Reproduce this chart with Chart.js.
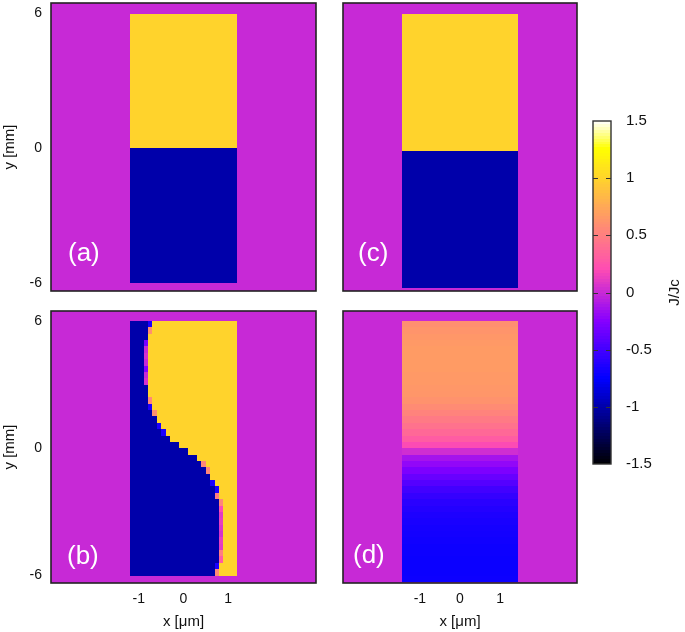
<!DOCTYPE html>
<html>
<head>
<meta charset="utf-8">
<script src="https://cdn.jsdelivr.net/npm/chart.js@4.4.1/dist/chart.umd.min.js"></script>
<style>
  body { margin: 0; background: #fff; width: 685px; height: 632px; position: relative; overflow: hidden; }
  canvas { position: absolute; }
</style>
</head>
<body>
<canvas id="pa" width="320" height="295" style="left:0;top:0"></canvas>
<canvas id="pc" width="250" height="295" style="left:330px;top:0"></canvas>
<canvas id="pb" width="320" height="332" style="left:0;top:300px"></canvas>
<canvas id="pd" width="250" height="332" style="left:330px;top:300px"></canvas>
<canvas id="cb" width="105" height="380" style="left:580px;top:100px"></canvas>
<script>
// colour range J/Jc and tick labels
const cbMin = -1.5, cbMax = 1.5;
const cbTicks = [-1.5, -1, -0.5, 0, 0.5, 1, 1.5];
const xTicks = [-1, 0, 1];
const yTicks = [-6, 0, 6];

// (a) sharp split at y = 0
const aX = [-1.19, 1.19];
const aY = [-6, 0, 6];
const aJ = [-1, 1];

// (c) split slightly below 0
const cX = [-1.45, 1.45];
const cY = [-6.2, -0.1, 6];
const cJ = [-1, 1];

// (b) 24 x 40 grid, rows listed top to bottom
const bX = [-1.19, 1.19];
const bY = [-6, 6];
const bCols = 24;
// first column that is +1 in each row
const bEdge = [5, 5, 4, 4, 4, 4, 4, 4, 4, 4,
               4, 4, 5, 5, 6, 6, 7, 8, 9, 11,
               13, 15, 17, 18, 18, 19, 20, 20, 21, 21,
               21, 21, 21, 21, 21, 21, 21, 21, 20, 20];
// value of the cell just left of that edge
const bMix = [-0.65, 0.6, -1, -0.3, 0, 0.05, 0, -0.25, 0, 0.05,
              -1, -1, 0.55, -0.65, 0.6, -1, -0.65, -0.65, -1, -1,
              -1, -1, 0.55, 0.55, -1, -0.65, -0.65, 0.5, 0.55, 0.2,
              0.1, 0.12, 0.08, 0.05, 0.12, 0.1, 0.5, 0.3, -0.65, 0.55];

// (d) horizontal bands 0.3 mm tall, top (y = 6) to bottom
const dX = [-1.45, 1.45];
const dTop = 6, dRowH = 0.3;
const dJ = [0.6, 0.63, 0.65, 0.66, 0.67, 0.67, 0.67, 0.67, 0.66, 0.66,
            0.65, 0.64, 0.62, 0.58, 0.53, 0.48, 0.43, 0.37, 0.3, 0.2,
            0.03, -0.13, -0.2, -0.28, -0.36, -0.43, -0.5, -0.55, -0.59, -0.62,
            -0.64, -0.655, -0.67, -0.68, -0.69, -0.7, -0.7, -0.71, -0.71, -0.71, -0.7];

// gnuplot rgbformulae 30,31,32
function clamp01(v) { return Math.max(0, Math.min(1, v)); }
function palette(j) {
  const t = clamp01((j - cbMin) / (cbMax - cbMin));
  const r = clamp01(t / 0.32 - 0.78125);
  const g = clamp01(2 * t - 0.84);
  let b;
  if (t < 0.25) b = 4 * t;
  else if (t < 0.42) b = 1;
  else if (t < 0.92) b = -2 * t + 1.84;
  else b = t / 0.08 - 11.5;
  b = clamp01(b);
  return 'rgb(' + Math.round(r * 255) + ',' + Math.round(g * 255) + ',' + Math.round(b * 255) + ')';
}

function cell(x0, x1, y0, y1, v) {
  return { x: (x0 + x1) / 2, y: (y0 + y1) / 2, x0: x0, x1: x1, y0: y0, y1: y1, v: v };
}

function splitCells(xs, ys, js) {
  return js.map((v, i) => cell(xs[0], xs[1], ys[i], ys[i + 1], v));
}

const aCells = splitCells(aX, aY, aJ);
const cCells = splitCells(cX, cY, cJ);

const bCells = [];
const bw = (bX[1] - bX[0]) / bCols, bh = (bY[1] - bY[0]) / bEdge.length;
bEdge.forEach((edge, r) => {
  const y1 = bY[1] - r * bh, y0 = y1 - bh;
  for (let c = 0; c < bCols; c++) {
    let v = c < edge ? -1 : 1;
    if (c === edge - 1) v = bMix[r];
    bCells.push(cell(bX[0] + c * bw, bX[0] + (c + 1) * bw, y0, y1, v));
  }
});

const dCells = dJ.map((v, i) => cell(dX[0], dX[1], dTop - (i + 1) * dRowH, dTop - i * dRowH, v));

const FONT = "'Liberation Sans', Arial, sans-serif";
const tickFont = { family: FONT, size: 14 };
const titleFont = { family: FONT, size: 15 };
const noGrid = { display: false, drawTicks: false };

// fixed axis sizes, no extra room for overhanging labels
function fixSize(w, h) {
  return s => {
    if (!s.options.display) { s.width = 0; s.height = 0; }
    else if (w) s.width = w;
    else s.height = h;
    s.paddingTop = s.paddingBottom = s.paddingLeft = s.paddingRight = 0;
  };
}

// draws the cells through the chart scales, then the frame and panel tag
const heatmap = {
  id: 'heatmap',
  beforeDatasetsDraw(chart) {
    const { ctx, chartArea: a, scales: { x, y } } = chart;
    ctx.save();
    ctx.fillStyle = palette(0);
    ctx.fillRect(a.left, a.top, a.width, a.height);
    chart.data.datasets[0].data.forEach(c => {
      const px0 = Math.round(x.getPixelForValue(c.x0)), px1 = Math.round(x.getPixelForValue(c.x1));
      const py0 = Math.round(y.getPixelForValue(c.y0)), py1 = Math.round(y.getPixelForValue(c.y1));
      ctx.fillStyle = palette(c.v);
      ctx.fillRect(Math.min(px0, px1), Math.min(py0, py1), Math.abs(px1 - px0), Math.abs(py1 - py0));
    });
    ctx.restore();
  },
  afterDraw(chart) {
    const { ctx, chartArea: a } = chart;
    const tag = chart.options.plugins.heatmap;
    ctx.save();
    ctx.strokeStyle = '#222';
    ctx.lineWidth = 1.6;
    ctx.strokeRect(a.left, a.top, a.width, a.height);
    ctx.fillStyle = '#fff';
    ctx.font = '26px ' + FONT;
    ctx.textAlign = 'left';
    ctx.textBaseline = 'alphabetic';
    ctx.fillText(tag.text, a.left + tag.dx, a.bottom - tag.dy);
    ctx.restore();
  }
};

function panel(id, cells, o) {
  return new Chart(document.getElementById(id), {
    type: 'scatter',
    data: { datasets: [{ data: cells, pointRadius: 0 }] },
    options: {
      responsive: false,
      animation: false,
      events: [],
      layout: { padding: o.pad },
      plugins: {
        legend: { display: false },
        tooltip: { enabled: false },
        heatmap: { text: o.tag, dx: o.dx, dy: o.dy }
      },
      scales: {
        x: {
          type: 'linear', min: -o.xr, max: o.xr, display: o.showX,
          grid: noGrid, border: { display: false },
          afterBuildTicks: s => { s.ticks = xTicks.map(v => ({ value: v })); },
          afterFit: fixSize(0, 49),
          ticks: { font: tickFont, color: '#111', padding: 8 },
          title: { display: true, text: 'x [μm]', font: titleFont, color: '#111', padding: { top: 0, bottom: 1 } }
        },
        y: {
          type: 'linear', min: -6.35, max: 6.47, display: o.showY,
          grid: noGrid, border: { display: false },
          afterBuildTicks: s => { s.ticks = yTicks.map(v => ({ value: v })); },
          afterFit: fixSize(51, 0),
          ticks: { font: tickFont, color: '#111', padding: 9 },
          title: { display: true, text: 'y [mm]', font: titleFont, color: '#111', padding: { top: 1, bottom: 0 } }
        }
      }
    },
    plugins: [heatmap]
  });
}

panel('pa', aCells, { xr: 2.96, showX: false, showY: true, pad: { top: 3, bottom: 4, right: 4, left: 0 }, tag: '(a)', dx: 17, dy: 30 });
panel('pb', bCells, { xr: 2.96, showX: true, showY: true, pad: { top: 11, bottom: 0, right: 4, left: 0 }, tag: '(b)', dx: 16, dy: 19 });
panel('pc', cCells, { xr: 2.92, showX: false, showY: false, pad: { top: 3, bottom: 4, right: 3, left: 13 }, tag: '(c)', dx: 15, dy: 30 });
panel('pd', dCells, { xr: 2.92, showX: true, showY: false, pad: { top: 11, bottom: 0, right: 3, left: 13 }, tag: '(d)', dx: 10, dy: 20 });

// colour bar
const colorBar = {
  id: 'colorBar',
  beforeDatasetsDraw(chart) {
    const { ctx, chartArea: a, scales: { y } } = chart;
    const n = 120;
    ctx.save();
    for (let i = 0; i < n; i++) {
      const v0 = cbMin + (cbMax - cbMin) * i / n, v1 = cbMin + (cbMax - cbMin) * (i + 1) / n;
      const p0 = y.getPixelForValue(v0), p1 = y.getPixelForValue(v1);
      ctx.fillStyle = palette((v0 + v1) / 2);
      ctx.fillRect(a.left, Math.floor(p1), a.width, Math.ceil(p0) - Math.floor(p1));
    }
    ctx.strokeStyle = '#333';
    ctx.lineWidth = 1;
    cbTicks.slice(1, -1).forEach(v => {
      const p = Math.round(y.getPixelForValue(v)) + 0.5;
      ctx.beginPath();
      ctx.moveTo(a.left, p); ctx.lineTo(a.left + 5, p);
      ctx.moveTo(a.right - 5, p); ctx.lineTo(a.right, p);
      ctx.stroke();
    });
    ctx.lineWidth = 1.4;
    ctx.strokeRect(a.left, a.top, a.width, a.height);
    ctx.fillStyle = '#111';
    ctx.font = '15px ' + FONT;
    ctx.textAlign = 'center';
    ctx.textBaseline = 'middle';
    ctx.translate(95, (a.top + a.bottom) / 2);
    ctx.rotate(-Math.PI / 2);
    ctx.fillText('J/Jc', 0, 0);
    ctx.restore();
  }
};

new Chart(document.getElementById('cb'), {
  type: 'scatter',
  data: { datasets: [{ data: [], pointRadius: 0 }] },
  options: {
    responsive: false,
    animation: false,
    events: [],
    layout: { padding: { top: 21, bottom: 16, left: 13, right: 0 } },
    plugins: { legend: { display: false }, tooltip: { enabled: false } },
    scales: {
      x: { type: 'linear', min: 0, max: 1, display: false, afterFit: fixSize(0, 0) },
      y: {
        type: 'linear', position: 'right', min: cbMin, max: cbMax,
        grid: noGrid, border: { display: false },
        afterBuildTicks: s => { s.ticks = cbTicks.map(v => ({ value: v })); },
        afterFit: fixSize(74, 0),
        ticks: { font: { family: FONT, size: 15 }, color: '#111', padding: 15, callback: v => String(v) }
      }
    }
  },
  plugins: [colorBar]
});
</script>
</body>
</html>
